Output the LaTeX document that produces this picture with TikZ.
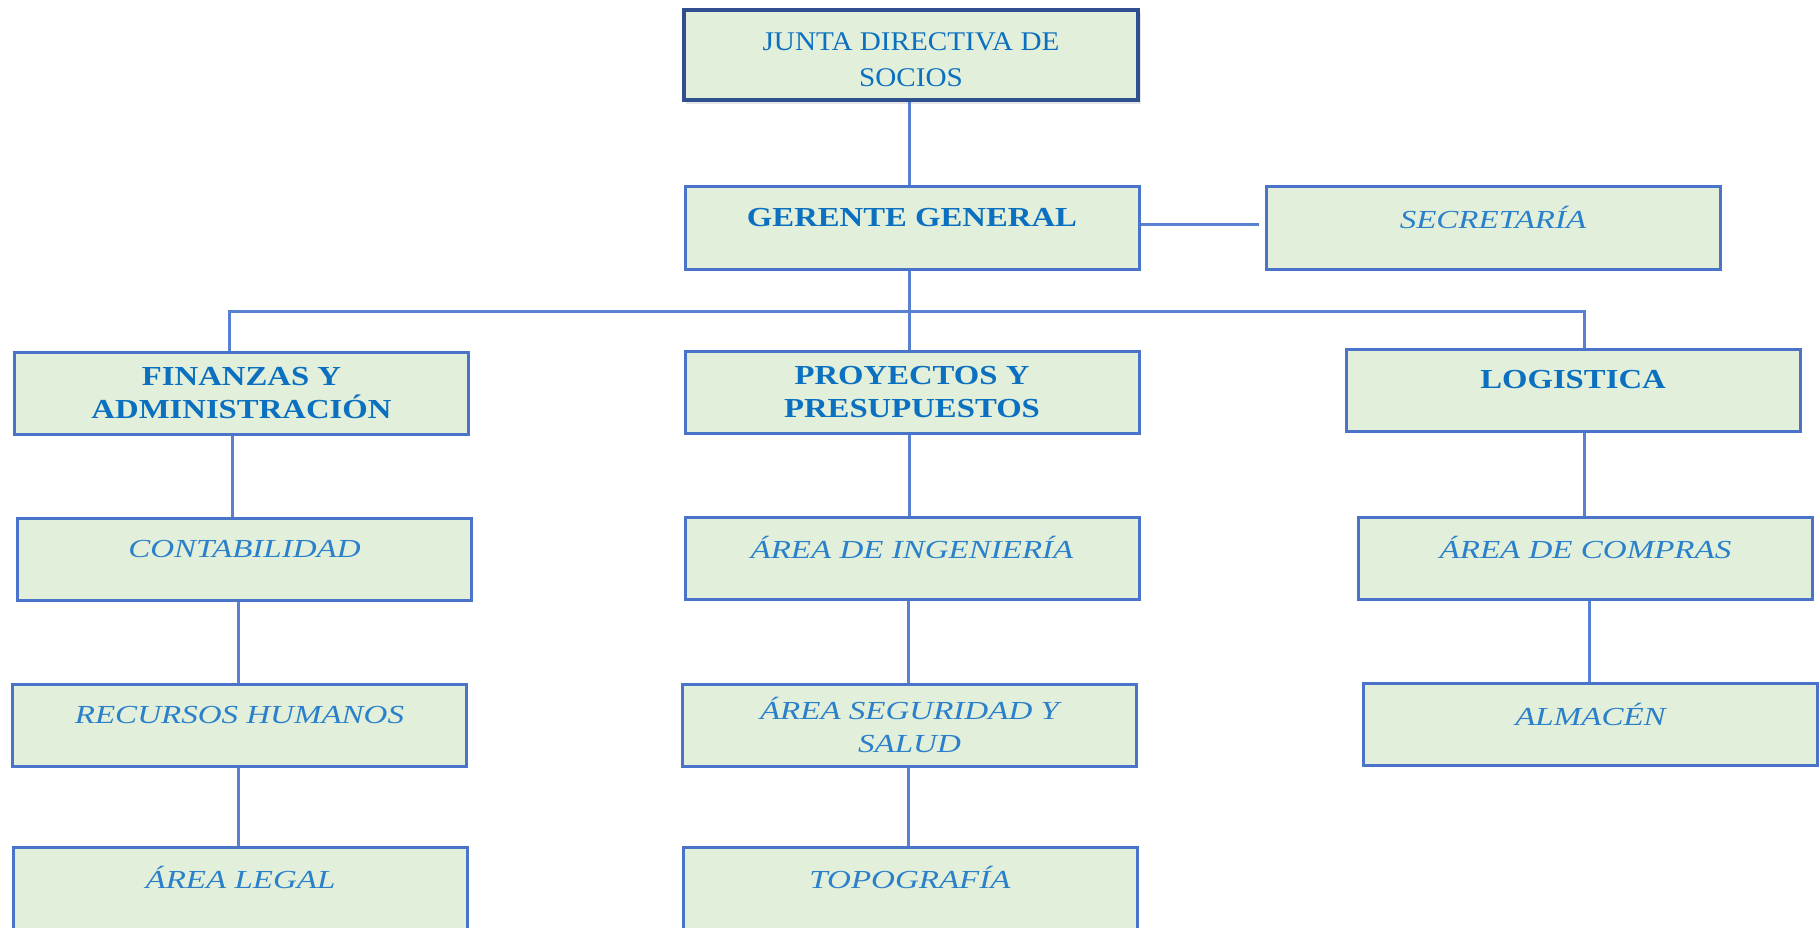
\documentclass[tikz,border=0pt]{standalone}
\usepackage{fontspec}
\setmainfont{Liberation Serif}
\newfontfamily\regf{Liberation Serif}[FakeStretch=1.08]
\newfontfamily\boldf{Liberation Serif}[FakeStretch=1.19]
\newfontfamily\itf{Liberation Serif}[FakeStretch=1.27]
\definecolor{boxfill}{HTML}{E2EFDA}
\definecolor{boxline}{HTML}{4A74C9}
\definecolor{darkline}{HTML}{2F4F8F}
\definecolor{txtblue}{HTML}{0B70C0}
\definecolor{itblue}{HTML}{2A80CA}
\definecolor{conn}{HTML}{5A80D2}
\newcommand{\oneline}[1]{#1\\[-22pt]\strut}
\tikzset{
  box/.style={draw=boxline, line width=3pt, fill=boxfill, inner sep=0pt,
    minimum width=454pt, minimum height=82pt, align=center, text=txtblue},
  bfbox/.style={box, font=\boldf\bfseries\fontsize{27.5}{33}\selectfont},
  itbox/.style={box, text=itblue, font=\itf\itshape\fontsize{26}{33}\selectfont},
  topbox/.style={box, draw=darkline, line width=3.5pt, minimum height=90pt,
    font=\regf\fontsize{27}{36}\selectfont},
  conn/.style={draw=conn, line width=3pt}
}
\begin{document}
\begin{tikzpicture}[x=1pt,y=-1pt]
\useasboundingbox (0,0) rectangle (1820,928);
\clip (0,0) rectangle (1820,928);
% boxes
\fill[black!10] (686,13) rectangle (1141,104);
\node[topbox] (junta) at (911,55) {\rule{0pt}{27.5pt}JUNTA DIRECTIVA DE\\SOCIOS};
\node[bfbox] (gerente) at (912,228) {\oneline{GERENTE GENERAL}};
\node[itbox] (secretaria) at (1493,228) {\oneline{SECRETARÍA}};
\node[bfbox] (fin) at (241.5,393.5) {FINANZAS Y\\ADMINISTRACIÓN};
\node[bfbox] (proy) at (912,392) {PROYECTOS Y\\PRESUPUESTOS};
\node[bfbox] (log) at (1573,390) {\oneline{LOGISTICA}};
\node[itbox] (cont) at (244.5,559) {\oneline{CONTABILIDAD}};
\node[itbox] (ing) at (912,558) {\oneline{ÁREA DE INGENIERÍA}};
\node[itbox] (compras) at (1585.5,558) {\oneline{ÁREA DE COMPRAS}};
\node[itbox] (rh) at (239.5,725) {\oneline{RECURSOS HUMANOS}};
\node[itbox] (seg) at (909.5,725) {ÁREA SEGURIDAD Y\\SALUD};
\node[itbox] (alm) at (1590.5,724.5) {\oneline{ALMACÉN}};
\node[itbox] (legal) at (240.5,888) {\oneline{ÁREA LEGAL}};
\node[itbox] (topo) at (910,888) {\oneline{TOPOGRAFÍA}};
% connectors
\coordinate (busL) at (229,311);
\coordinate (busR) at (1584,311);
\draw[conn] ([xshift=-2pt]junta.south) -- ([xshift=-2pt]junta.south |- gerente.north);
\draw[conn] ([yshift=3pt]gerente.east) -- ([yshift=3pt,xshift=-6pt]secretaria.west);
\draw[conn] ([xshift=-3pt]gerente.south) -- ([xshift=-3pt]gerente.south |- proy.north);
\draw[conn] ([xshift=-12.5pt]fin.north) -- (busL) -- (busR) -- ([xshift=11pt]log.north);
\draw[conn] ([xshift=-9.5pt]fin.south) -- ([xshift=-9.5pt]fin.south |- cont.north);
\draw[conn] ([xshift=-6.5pt]cont.south) -- ([xshift=-6.5pt]cont.south |- rh.north);
\draw[conn] ([xshift=-1.5pt]rh.south) -- ([xshift=-1.5pt]rh.south |- legal.north);
\draw[conn] ([xshift=-3pt]proy.south) -- ([xshift=-3pt]proy.south |- ing.north);
\draw[conn] ([xshift=-4pt]ing.south) -- ([xshift=-4pt]ing.south |- seg.north);
\draw[conn] ([xshift=-1.5pt]seg.south) -- ([xshift=-1.5pt]seg.south |- topo.north);
\draw[conn] ([xshift=11pt]log.south) -- ([xshift=11pt]log.south |- compras.north);
\draw[conn] ([xshift=3.5pt]compras.south) -- ([xshift=3.5pt]compras.south |- alm.north);
\end{tikzpicture}
\end{document}
